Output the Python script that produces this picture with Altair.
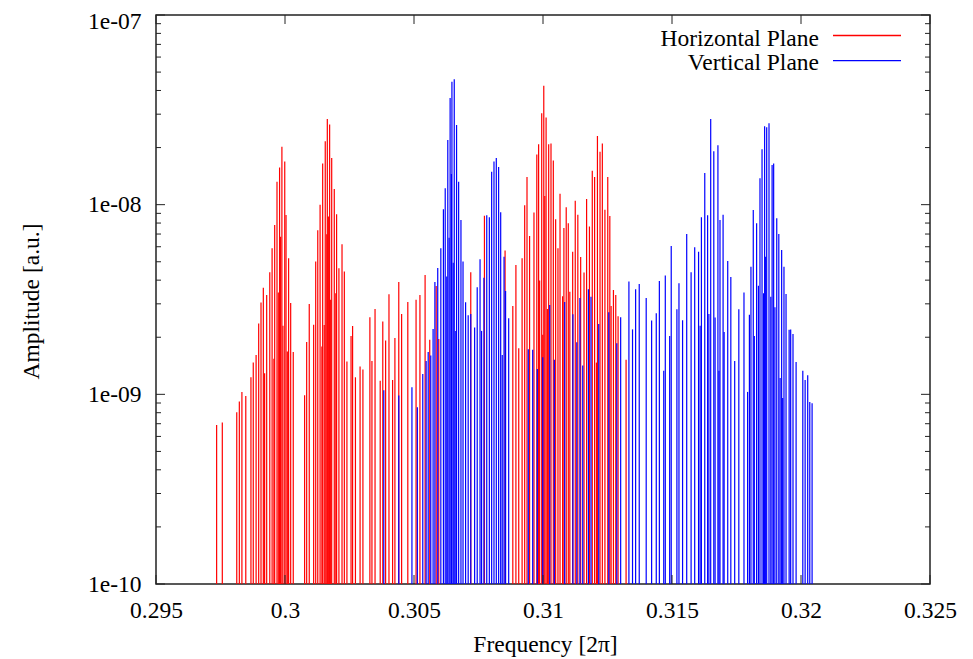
import altair as alt
import pandas as pd

# ---------------- data ----------------
series_names = ["Horizontal Plane", "Vertical Plane"]
series_colors = ["#ff0000", "#0000ff"]

h_freq = [
    0.29735, 0.29757, 0.29813, 0.29823, 0.29833, 0.29848, 0.29868, 0.29877, 0.29888, 0.29898,
    0.29907, 0.29916, 0.29921, 0.29929, 0.29941, 0.29950, 0.29957, 0.29960, 0.29969, 0.29974,
    0.29979, 0.29983, 0.29988, 0.29992, 0.29999, 0.30004, 0.30009, 0.30014, 0.30022, 0.30032,
    0.30076, 0.30084, 0.30094, 0.30111, 0.30119, 0.30127, 0.30136, 0.30143, 0.30146, 0.30152,
    0.30156, 0.30162, 0.30164, 0.30168, 0.30173, 0.30177, 0.30181, 0.30191, 0.30197, 0.30200,
    0.30209, 0.30221, 0.30230, 0.30240, 0.30256, 0.30262, 0.30273, 0.30291,
    0.30302, 0.30329, 0.30337, 0.30349, 0.30369, 0.30379, 0.30390, 0.30403, 0.30417, 0.30426,
    0.30441, 0.30452, 0.30476, 0.30508, 0.30523, 0.30543, 0.30561, 0.30586, 0.30596, 0.30720,
    0.30773, 0.30853,
    0.30883, 0.30895, 0.30906, 0.30919, 0.30929, 0.30938, 0.30948, 0.30965, 0.30976, 0.30983,
    0.30987, 0.30995, 0.30999, 0.31003, 0.31007, 0.31012, 0.31017, 0.31022, 0.31031, 0.31040,
    0.31049, 0.31058, 0.31066, 0.31076, 0.31081, 0.31090, 0.31098, 0.31104, 0.31115, 0.31125,
    0.31135, 0.31146, 0.31159, 0.31169, 0.31180, 0.31191, 0.31200, 0.31207, 0.31211, 0.31221,
    0.31230, 0.31240, 0.31251, 0.31259, 0.31264, 0.31273, 0.31282, 0.31291, 0.31322,
]
h_amp = [
    6.9e-10, 7.1e-10, 8.05e-10, 9.16e-10, 1.03e-9, 9.8e-10, 1.23e-9, 1.47e-9, 1.61e-9, 2.36e-9,
    3.05e-9, 3.65e-9, 1.29e-9, 3.34e-9, 4.40e-9, 5.89e-9, 1.54e-9, 7.82e-9, 1.32e-8, 3.44e-9,
    1.57e-8, 6.78e-9, 2.02e-8, 2.30e-9, 1.69e-8, 8.83e-9, 1.68e-9, 5.22e-9, 3.03e-9, 1.67e-9,
    9.9e-10, 1.89e-9, 2.99e-9, 2.33e-9, 5.01e-9, 7.33e-9, 1.00e-8, 1.79e-9, 1.65e-8, 2.32e-9,
    2.16e-8, 6.98e-9, 2.83e-8, 8.65e-9, 2.65e-8, 3.15e-9, 1.76e-8, 1.21e-8, 3.41e-9, 8.91e-9,
    4.62e-9, 6.18e-9, 4.44e-9, 1.49e-9, 2.03e-9, 2.29e-9, 1.23e-9, 1.40e-9,
    1.35e-9, 2.55e-9, 1.50e-9, 2.82e-9, 1.18e-9, 2.42e-9, 1.92e-9, 3.37e-9, 1.19e-9, 1.98e-9,
    3.91e-9, 2.65e-9, 3.07e-9, 3.15e-9, 3.34e-9, 4.26e-9, 1.94e-9, 3.73e-9, 1.96e-9, 4.40e-9,
    8.75e-9, 5.73e-9,
    2.92e-9, 4.81e-9, 1.75e-9, 5.22e-9, 9.93e-9, 1.40e-8, 6.84e-9, 9.08e-9, 1.84e-8, 2.08e-8,
    3.98e-9, 3.03e-8, 2.06e-9, 4.23e-8, 1.11e-8, 2.88e-8, 2.82e-9, 2.08e-8, 2.10e-8, 1.71e-8,
    8.38e-9, 5.89e-9, 1.14e-8, 3.29e-9, 7.54e-9, 9.69e-9, 7.98e-9, 3.47e-9, 5.64e-9, 1.05e-8,
    8.86e-9, 5.30e-9, 4.39e-9, 1.07e-8, 7.66e-9, 1.51e-8, 1.40e-8, 1.47e-9, 2.30e-8, 1.90e-8,
    2.10e-8, 9.41e-9, 1.40e-8, 8.72e-9, 2.92e-9, 3.55e-9, 3.34e-9, 2.58e-9, 1.52e-9,
]

v_freq = [
    0.30383, 0.30441, 0.30492, 0.30513, 0.30534, 0.30547, 0.30555, 0.30565, 0.30574, 0.30581,
    0.30592, 0.30604, 0.30614, 0.30621, 0.30627, 0.30631, 0.30636, 0.30640, 0.30645, 0.30647,
    0.30652, 0.30656, 0.30662, 0.30665, 0.30673, 0.30682, 0.30690, 0.30700, 0.30710, 0.30720,
    0.30735, 0.30745, 0.30756, 0.30762, 0.30771, 0.30782, 0.30792, 0.30801, 0.30810, 0.30819,
    0.30828, 0.30836, 0.30842, 0.30849, 0.30855, 0.30867,
    0.30943, 0.30960, 0.30978, 0.30999, 0.31026, 0.31044, 0.31084, 0.31116, 0.31131, 0.31143,
    0.31154, 0.31176, 0.31186, 0.31216, 0.31255, 0.31286, 0.31301, 0.31333, 0.31347, 0.31359,
    0.31373, 0.31400, 0.31421, 0.31439, 0.31451, 0.31468, 0.31474, 0.31491, 0.31497, 0.31519,
    0.31527, 0.31541, 0.31557, 0.31574, 0.31588, 0.31603, 0.31609, 0.31614, 0.31627, 0.31638,
    0.31643, 0.31650, 0.31662, 0.31667, 0.31678, 0.31682, 0.31686, 0.31698, 0.31702, 0.31716,
    0.31728, 0.31743, 0.31759, 0.31779, 0.31793, 0.31800, 0.31806, 0.31815, 0.31819, 0.31828,
    0.31835, 0.31841, 0.31849, 0.31855, 0.31859, 0.31863, 0.31867, 0.31876, 0.31883, 0.31888,
    0.31894, 0.31899, 0.31906, 0.31914, 0.31919, 0.31925, 0.31929, 0.31934, 0.31942, 0.31954,
    0.31960, 0.31969, 0.31981, 0.32007, 0.32016, 0.32026, 0.32034, 0.32043,
]
v_amp = [
    1.05e-9, 9.85e-10, 1.09e-9, 8.55e-10, 1.28e-9, 1.50e-9, 1.67e-9, 1.60e-9, 2.21e-9, 3.91e-9,
    4.64e-9, 5.89e-9, 9.46e-9, 1.22e-8, 4.18e-9, 2.19e-8, 6.70e-9, 3.65e-8, 1.45e-8, 4.45e-8,
    4.94e-9, 4.58e-8, 2.16e-9, 2.63e-8, 1.32e-8, 8.30e-9, 5.01e-9, 3.06e-9, 2.61e-9, 2.65e-9,
    2.25e-9, 3.67e-9, 5.15e-9, 2.16e-9, 4.12e-9, 8.79e-9, 8.59e-9, 1.49e-8, 1.69e-8, 1.76e-8,
    1.58e-8, 9.12e-9, 1.61e-9, 5.32e-9, 3.51e-9, 2.52e-9,
    1.73e-9, 1.72e-9, 1.36e-9, 1.57e-9, 2.96e-9, 1.52e-9, 3.07e-9, 2.64e-9, 1.88e-9, 3.22e-9,
    1.42e-9, 3.58e-9, 3.27e-9, 2.35e-9, 2.71e-9, 1.86e-9, 2.55e-9, 3.94e-9, 2.20e-9, 3.58e-9,
    3.82e-9, 3.22e-9, 2.45e-9, 2.68e-9, 3.96e-9, 1.33e-9, 4.23e-9, 2.03e-9, 6.06e-9, 2.81e-9,
    3.85e-9, 2.46e-9, 7.01e-9, 4.40e-9, 5.97e-9, 5.65e-9, 2.30e-9, 8.59e-9, 1.47e-8, 8.79e-9,
    2.65e-9, 2.83e-8, 1.91e-8, 2.54e-9, 2.06e-8, 1.33e-9, 8.30e-9, 8.86e-9, 2.13e-9, 5.05e-9,
    4.16e-9, 1.50e-9, 2.81e-9, 3.44e-9, 1.03e-9, 2.63e-9, 4.71e-9, 9.38e-9, 2.03e-9, 7.98e-9,
    3.74e-9, 1.38e-8, 1.96e-8, 3.41e-9, 2.59e-8, 5.32e-9, 2.56e-8, 2.69e-8, 3.27e-9, 1.62e-8,
    1.65e-8, 2.88e-9, 8.48e-9, 7.01e-9, 1.22e-9, 5.77e-9, 9.57e-10, 4.70e-9, 3.38e-9, 2.19e-9,
    2.20e-9, 2.08e-9, 1.48e-9, 1.33e-9, 1.19e-9, 1.26e-9, 9.10e-10, 8.98e-10,
]

x_ticks = [0.295, 0.300, 0.305, 0.310, 0.315, 0.320, 0.325]
y_ticks = [1e-10, 1e-9, 1e-8, 1e-7]
y_minor = [m * 10.0 ** e for e in (-10, -9, -8) for m in range(2, 10)]

# ---------------- layout ----------------
W, H = 774, 569
FONT = "Liberation Serif"
FS = 23.5
BASE = 1e-10

xscale = alt.Scale(domain=[0.295, 0.325], nice=False, zero=False)
yscale = alt.Scale(type="log", domain=[1e-10, 1e-7], nice=False)

xaxis = alt.Axis(
    values=x_ticks, format="~g", title="Frequency [2π]",
    labelPadding=14, labelFlush=False, labelOverlap=False,
    titleX=389, titleY=67.5, titleAlign="center", titleBaseline="alphabetic",
)
yaxis = alt.Axis(
    values=y_ticks, title="Amplitude [a.u.]",
    labelExpr="'1e-' + format(round(-log(datum.value)/LN10), '02d')",
    labelPadding=15, labelFlush=False, labelOverlap=False,
    labelOffset={"condition": {"test": "datum.value > 5e-8", "value": 6}, "value": 0},
    titleX=-125, titleY=286, titleAngle=270, titleAlign="center", titleBaseline="middle",
)

h_df = pd.DataFrame({"freq": h_freq, "amp": h_amp})
v_df = pd.DataFrame({"freq": v_freq, "amp": v_amp})

red = alt.Chart(h_df).mark_rule(color=series_colors[0], strokeWidth=1.2).encode(
    x=alt.X("freq:Q", scale=xscale, axis=xaxis),
    y=alt.Y("amp:Q", scale=yscale, axis=yaxis),
    y2=alt.datum(BASE),
)
blue = alt.Chart(v_df).mark_rule(color=series_colors[1], strokeWidth=1.2).encode(
    x=alt.X("freq:Q", scale=xscale, axis=xaxis),
    y=alt.Y("amp:Q", scale=yscale, axis=yaxis),
    y2=alt.datum(BASE),
)

# inward ticks (gnuplot style, mirrored on all sides)
xt_df = pd.DataFrame({"freq": x_ticks})
yt_df = pd.DataFrame({"amp": y_ticks})
ym_df = pd.DataFrame({"amp": y_minor})
tick_style = dict(color="#222", strokeWidth=1)

def xtick(y0, y1):
    return alt.Chart(xt_df).mark_rule(**tick_style).encode(
        x=alt.X("freq:Q", scale=xscale, axis=xaxis), y=alt.value(y0), y2=alt.value(y1))

def ytick(df, x0, x1):
    return alt.Chart(df).mark_rule(**tick_style).encode(
        y=alt.Y("amp:Q", scale=yscale, axis=yaxis), x=alt.value(x0), x2=alt.value(x1))

ticks = [
    xtick(H, H - 9), xtick(0, 9),
    ytick(yt_df, 0, 9), ytick(yt_df, W, W - 9),
    ytick(ym_df, 0, 5), ytick(ym_df, W, W - 5),
]

# legend (top right, inside the plot)
legend_layers = []
leg_text_y = [30.7, 55.0]
leg_line_y = [20.5, 45.7]
for i, name in enumerate(series_names):
    ldf = pd.DataFrame({"name": [name]})
    legend_layers.append(
        alt.Chart(ldf).mark_text(align="right", baseline="alphabetic", font=FONT,
                                 fontSize=FS, color="black").encode(
            text="name:N", x=alt.value(663), y=alt.value(leg_text_y[i]))
    )
    legend_layers.append(
        alt.Chart(ldf).mark_rule(color=series_colors[i], strokeWidth=1.3).encode(
            x=alt.value(677), x2=alt.value(745), y=alt.value(leg_line_y[i]))
    )

chart = alt.layer(red, blue, *ticks, *legend_layers).properties(
    width=W, height=H,
    autosize=alt.AutoSizeParams(type="none"),
    padding={"left": 148, "top": 7, "right": 30, "bottom": 76},
    background="white",
).configure_view(
    stroke="#222", strokeWidth=1.5,
).configure_axis(
    domain=False, ticks=False, grid=False,
    labelFont=FONT, labelFontSize=FS, labelColor="black",
    titleFont=FONT, titleFontSize=FS, titleFontWeight="normal", titleColor="black",
)

chart.save("out.html", embed_options={"renderer": "svg", "actions": False})
